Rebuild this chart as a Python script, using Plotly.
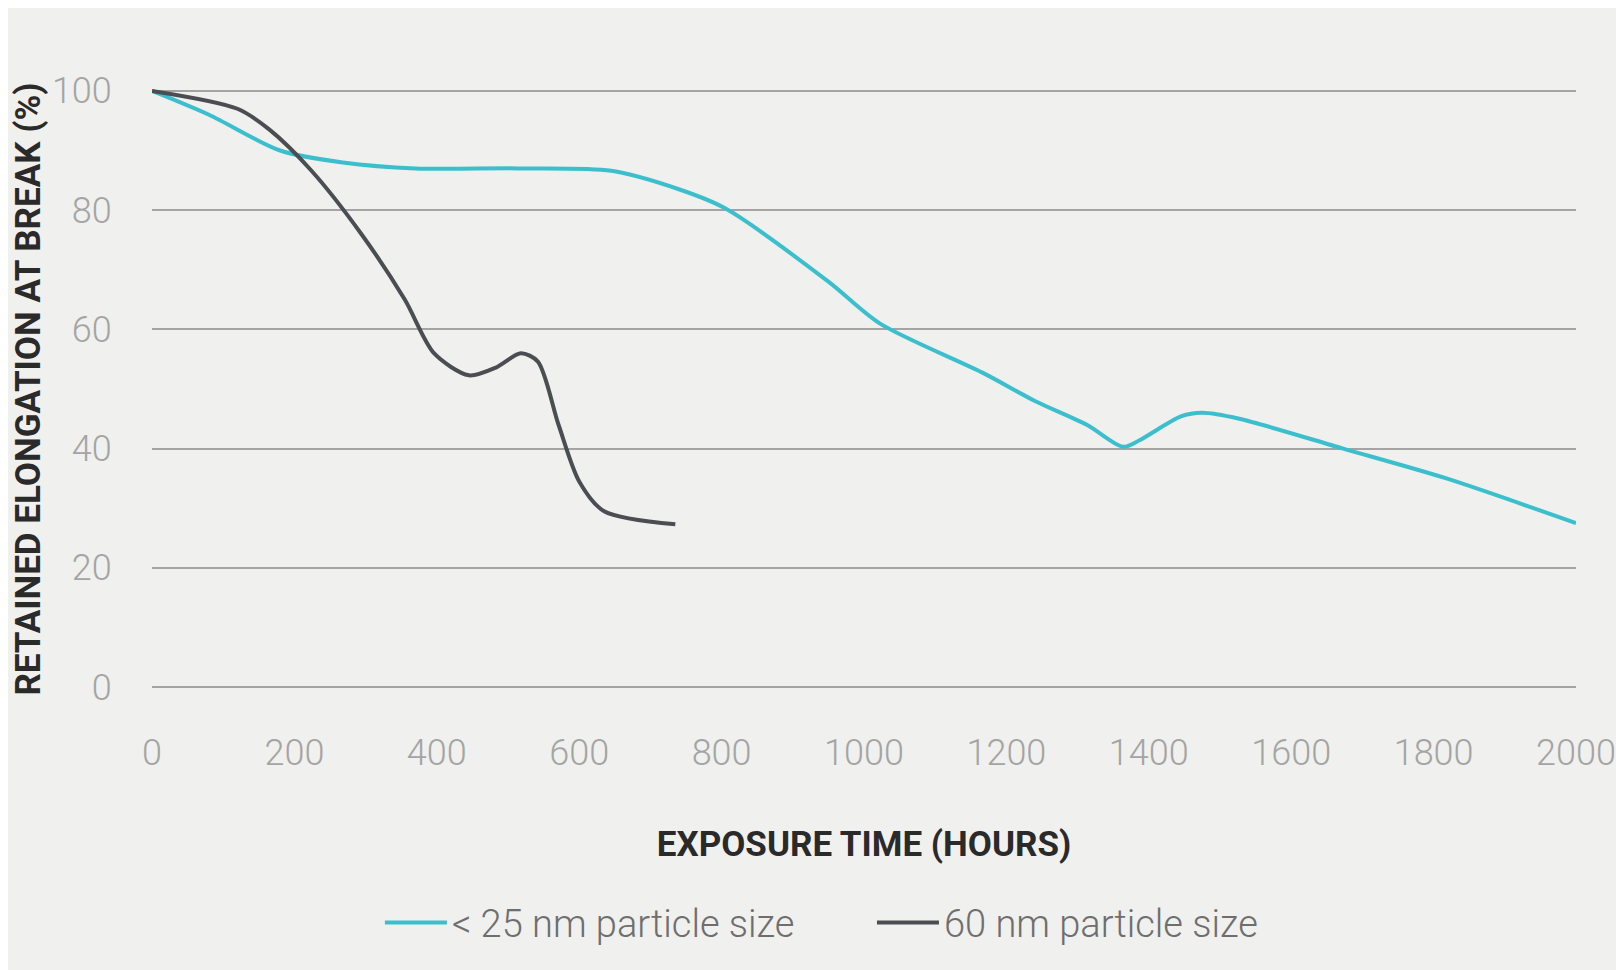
import plotly.graph_objects as go

hours_25 = [0, 80, 180, 268, 370, 515, 645, 740, 805, 950, 1022, 1167, 1240, 1313, 1364, 1387, 1445, 1475, 1527, 1673, 1818, 2000]
elong_25 = [100, 96, 90, 88, 87, 87, 86.6, 83.5, 80.3, 68, 61, 52.7, 48, 44, 40.3, 41.4, 45.4, 46, 45, 40, 35, 27.5]

hours_60 = [0, 120, 165, 224, 294, 355, 396, 445, 483, 518, 542, 571, 600, 635, 735]
elong_60 = [100, 97, 93.5, 86.6, 76, 65, 56, 52.3, 53.6, 56, 54.6, 44, 34.5, 29.5, 27.3]

x_ticks = [0, 200, 400, 600, 800, 1000, 1200, 1400, 1600, 1800, 2000]
y_ticks = [0, 20, 40, 60, 80, 100]

TICKFONT = dict(size=36, color="#a4a4a4", family="Roboto, sans-serif", weight=300)
TITLEFONT = dict(size=35, color="#2a2a2a", family="Liberation Sans Narrow, Roboto, sans-serif", weight=700)
LEGFONT = dict(size=38, color="#6e6e6e", family="Roboto, sans-serif", weight=300)

fig = go.Figure()
fig.add_trace(go.Scatter(x=hours_25, y=elong_25, mode="lines", name="< 25 nm particle size",
                         legend="legend",
                         line=dict(color="#3bbfcd", width=4, shape="spline", smoothing=0.8)))
fig.add_trace(go.Scatter(x=hours_60, y=elong_60, mode="lines", name="60 nm particle size",
                         legend="legend2",
                         line=dict(color="#4a4d52", width=4, shape="spline", smoothing=0.8)))

fig.update_layout(
    width=1624, height=970,
    paper_bgcolor="#f0f0ee", plot_bgcolor="#f0f0ee",
    margin=dict(l=144, r=56, t=65, b=273, autoexpand=False),
    font=dict(family="Roboto, Liberation Sans, sans-serif", color="#9a9a9a"),
    showlegend=True,
    legend=dict(orientation="h", xref="container", yref="container", x=0.229, xanchor="left",
                y=0.057, yanchor="middle", font=LEGFONT, bgcolor="rgba(0,0,0,0)", itemwidth=62),
    legend2=dict(orientation="h", xref="container", yref="container", x=0.532, xanchor="left",
                 y=0.057, yanchor="middle", font=LEGFONT, bgcolor="rgba(0,0,0,0)", itemwidth=62),
    xaxis=dict(range=[0, 2000], tickvals=x_ticks, showgrid=False, zeroline=False, automargin=False,
               showline=False, ticks="outside", ticklen=16, tickcolor="rgba(0,0,0,0)",
               tickfont=TICKFONT,
               title=dict(text="EXPOSURE TIME (HOURS)", standoff=58, font=TITLEFONT)),
    yaxis=dict(range=[-3, 103], tickvals=y_ticks, showgrid=True, gridcolor="#a4a4a4", gridwidth=2,
               zeroline=False, showline=False, ticks="outside", ticklen=32, tickcolor="rgba(0,0,0,0)",
               tickfont=TICKFONT, automargin=False,
               title=dict(text="RETAINED ELONGATION AT BREAK (%)", standoff=4, font=TITLEFONT)),
)
fig.update_traces(cliponaxis=False)

fig.write_html("out.html")
